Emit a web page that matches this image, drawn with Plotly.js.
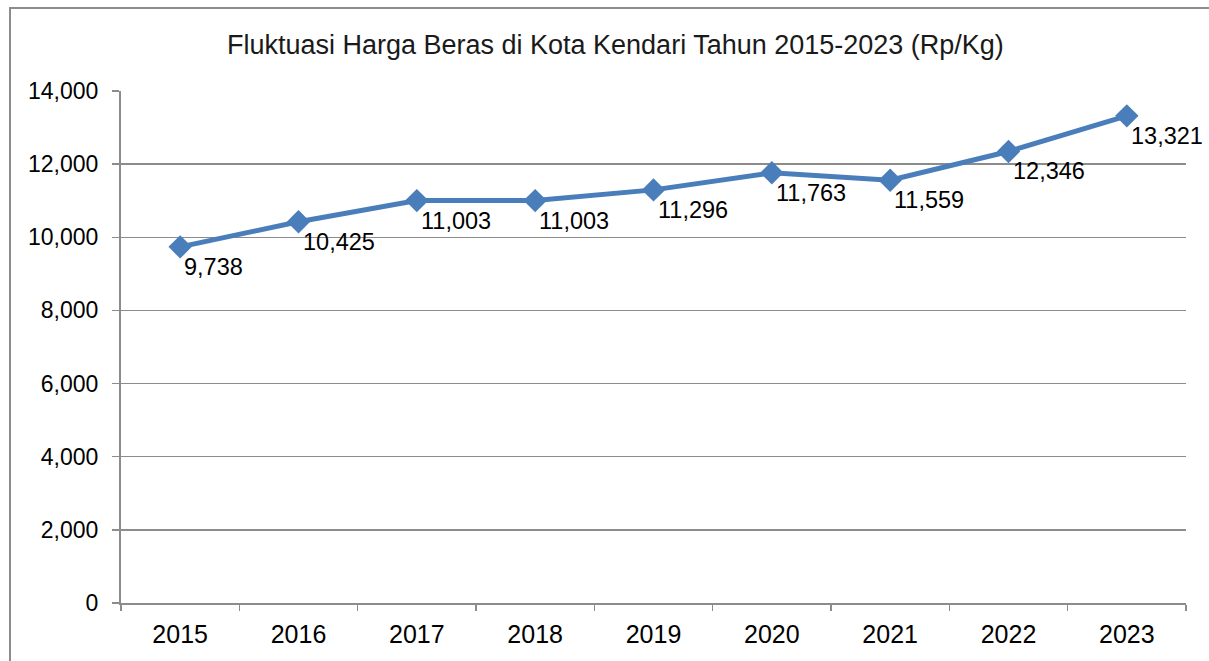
<!DOCTYPE html>
<html>
<head>
<meta charset="utf-8">
<script src="https://cdn.plot.ly/plotly-3.0.1.min.js"></script>
<style>
  html, body { margin: 0; padding: 0; background: #fff; }
  #wrap { position: relative; width: 1209px; height: 661px; overflow: hidden; }
  #frame { position: absolute; left: 9px; top: 7px; width: 1300px; height: 700px;
           border-left: 2px solid #8c8c8c; border-top: 2px solid #8c8c8c; pointer-events: none; z-index: 2; }
  #chart { position: absolute; left: 0; top: 0; width: 1209px; height: 661px; }
</style>
</head>
<body>
<div id="wrap">
  <div id="chart"></div>
  <div id="frame"></div>
</div>
<script>
const years = ["2015", "2016", "2017", "2018", "2019", "2020", "2021", "2022", "2023"];
const prices = [9738, 10425, 11003, 11003, 11296, 11763, 11559, 12346, 13321];
const priceLabels = ["9,738", "10,425", "11,003", "11,003", "11,296", "11,763", "11,559", "12,346", "13,321"];
const yTicks = [0, 2000, 4000, 6000, 8000, 10000, 12000, 14000];
const yTickText = ["0", "2,000", "4,000", "6,000", "8,000", "10,000", "12,000", "14,000"];
const titleText = "Fluktuasi Harga Beras di Kota Kendari Tahun 2015-2023 (Rp/Kg)";

const font = "Liberation Sans, Arial, sans-serif";

const trace = {
  type: "scatter",
  mode: "lines+markers",
  x: years,
  y: prices,
  cliponaxis: false,
  line: { color: "#4a7ebb", width: 5 },
  marker: { symbol: "diamond", size: 18, color: "#4a7ebb", line: { width: 0 } },
  hoverinfo: "none"
};

// category axis: annotations use the category serial number
const labelAnnotations = years.map((yr, i) => ({
  x: i,
  y: prices[i],
  xref: "x",
  yref: "y",
  text: priceLabels[i],
  showarrow: false,
  xanchor: "left",
  yanchor: "top",
  xshift: 3,
  yshift: -6,
  borderpad: 0,
  font: { family: font, size: 23.5, color: "#000" }
}));

const layout = {
  width: 1209,
  height: 661,
  margin: { l: 121, r: 23, t: 91, b: 58 },
  paper_bgcolor: "#fff",
  plot_bgcolor: "#fff",
  showlegend: false,
  title: {
    text: titleText,
    font: { family: font, size: 27, color: "#1a1a1a" },
    x: 0.509, xanchor: "center",
    y: 0.932, yanchor: "middle"
  },
  annotations: labelAnnotations,
  xaxis: {
    type: "category",
    range: [-0.5, 8.5],
    showgrid: false,
    showline: true,
    linecolor: "#8c8c8c",
    linewidth: 2,
    ticks: "outside",
    tickson: "boundaries",
    ticklen: 6,
    tickcolor: "#8c8c8c",
    tickwidth: 1.5,
    ticklabelstandoff: 8,
    tickfont: { family: font, size: 25, color: "#000" },
    zeroline: false
  },
  yaxis: {
    range: [0, 14000],
    tickvals: yTicks,
    ticktext: yTickText,
    showgrid: true,
    gridcolor: "#8c8c8c",
    gridwidth: 1.5,
    showline: true,
    linecolor: "#8c8c8c",
    linewidth: 2,
    ticks: "outside",
    ticklen: 7,
    tickcolor: "#8c8c8c",
    tickwidth: 1.5,
    ticklabelstandoff: 9,
    tickfont: { family: font, size: 23, color: "#000" },
    zeroline: false
  }
};

Plotly.newPlot("chart", [trace], layout, { staticPlot: true, displayModeBar: false });
</script>
</body>
</html>
